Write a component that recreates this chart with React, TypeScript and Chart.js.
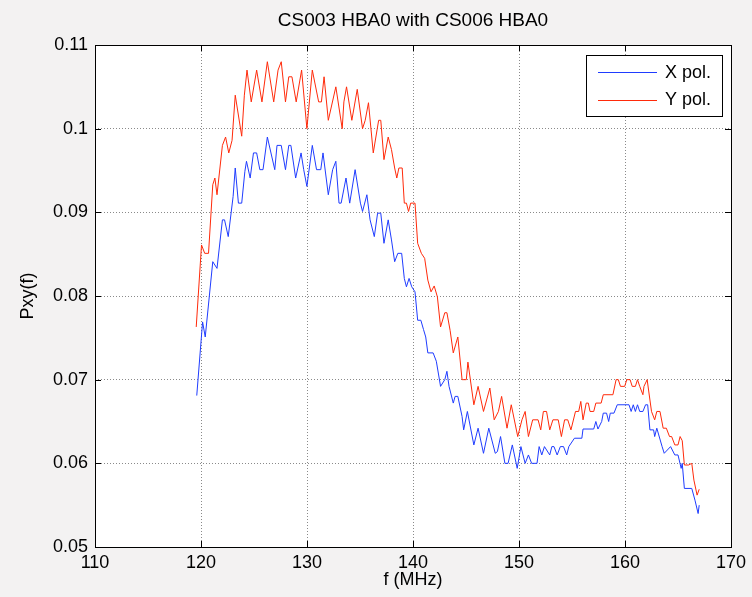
import React, { useEffect, useRef } from "react";
import { Chart, registerables } from "chart.js";

Chart.register(...registerables);

const chartTitle = "CS003 HBA0 with CS006 HBA0";
const xAxisLabel = "f (MHz)";
const yAxisLabel = "Pxy(f)";
const seriesNames = ["X pol.", "Y pol."];

const xTicks = [110, 120, 130, 140, 150, 160, 170];
const yTicks = [0.05, 0.06, 0.07, 0.08, 0.09, 0.1, 0.11];

const xPolFreq = [119.6,120.15,120.4,121.11,121.51,122.02,122.22,122.57,123.03,123.23,123.53,123.84,124.14,124.29,124.64,124.95,125.25,125.55,125.85,126.26,126.96,127.17,127.57,127.97,128.28,128.48,128.93,129.44,129.69,129.99,130.5,130.9,131.3,131.51,132.01,132.42,132.72,133.02,133.22,133.68,134.03,134.54,135.04,135.24,135.65,135.95,136.35,136.66,136.96,137.26,137.66,137.97,138.27,138.57,138.93,139.18,139.38,139.63,139.88,140.19,140.44,140.74,140.99,141.2,141.4,141.9,142.2,142.6,143.0,143.2,143.4,143.8,143.97,144.23,144.63,144.78,145.13,145.74,146.14,146.65,147.15,147.76,147.96,148.26,148.67,148.97,149.37,149.83,150.18,150.58,150.89,151.19,151.7,151.9,152.15,152.4,152.9,153.1,153.3,153.6,153.9,154.2,154.5,154.7,155.23,155.93,156.04,157.05,157.25,157.45,157.8,157.95,158.26,158.46,158.61,158.96,159.27,160.38,160.58,160.78,160.98,161.18,161.39,161.69,161.94,162.14,162.35,162.7,162.8,163.0,163.5,163.7,164.3,164.7,165.0,165.3,165.4,165.6,166.3,166.6,166.9,167.0];
const xPolValues = [0.0681,0.0769,0.0751,0.0841,0.0833,0.0891,0.0891,0.0871,0.0919,0.0953,0.0911,0.0911,0.0949,0.0961,0.0941,0.0971,0.0971,0.0951,0.0951,0.0990,0.0951,0.0980,0.0980,0.0951,0.0980,0.0980,0.0941,0.0971,0.0951,0.0931,0.0980,0.0951,0.0951,0.0971,0.0921,0.0951,0.0961,0.0911,0.0911,0.0941,0.0911,0.0951,0.0911,0.0901,0.0921,0.0891,0.0871,0.0899,0.0899,0.0863,0.0891,0.0867,0.0841,0.0851,0.0851,0.0821,0.0811,0.0821,0.0811,0.0805,0.0771,0.0771,0.0760,0.0751,0.0732,0.0732,0.0722,0.0692,0.0700,0.0710,0.0692,0.0672,0.0680,0.0680,0.0656,0.0640,0.0662,0.0622,0.0642,0.0612,0.0642,0.0612,0.0614,0.0632,0.0600,0.0600,0.0622,0.0594,0.0620,0.0600,0.0610,0.0600,0.0600,0.0620,0.0610,0.0620,0.0610,0.0620,0.0620,0.0610,0.0620,0.0620,0.0610,0.0620,0.0630,0.0630,0.0641,0.0641,0.0650,0.0641,0.0650,0.0660,0.0660,0.0650,0.0660,0.0660,0.0670,0.0670,0.0662,0.0670,0.0662,0.0670,0.0662,0.0662,0.0670,0.0670,0.0640,0.0640,0.0632,0.0642,0.0620,0.0612,0.0620,0.0610,0.0610,0.0594,0.0600,0.0570,0.0570,0.0556,0.0540,0.0550];

const yPolFreq = [119.55,120.05,120.35,120.71,121.11,121.31,121.51,122.02,122.32,122.62,122.93,123.23,123.84,124.09,124.34,124.74,125.25,125.75,126.26,126.86,127.27,127.57,127.97,128.28,128.58,128.98,129.49,129.99,130.5,131.1,131.36,131.61,132.01,132.72,133.32,133.48,133.73,134.23,134.74,135.24,135.49,135.8,136.25,136.76,136.96,137.26,137.66,137.97,138.27,138.47,138.67,138.98,139.18,139.38,139.58,139.78,140.19,140.44,140.79,141.1,141.4,141.7,142.0,142.3,142.6,143.0,143.2,143.5,143.8,144.23,144.63,145.03,145.18,145.74,146.14,146.65,147.25,147.66,148.06,148.36,148.87,149.27,149.88,150.28,150.58,150.89,151.29,151.8,152.05,152.3,152.6,152.9,153.2,153.7,154.0,154.3,154.6,154.9,155.33,155.63,155.83,156.04,156.34,156.54,156.7,157.05,157.25,157.75,157.95,158.86,159.16,159.37,159.57,159.97,160.17,160.48,160.68,160.98,161.18,161.39,161.69,161.79,162.09,162.5,162.8,163.0,163.3,163.6,163.9,164.2,164.4,164.7,165.0,165.2,165.4,165.6,166.0,166.3,166.5,166.8,167.0];
const yPolValues = [0.0763,0.0861,0.0851,0.0851,0.0933,0.0941,0.0921,0.0980,0.0990,0.0971,0.0986,0.1040,0.0991,0.1040,0.1070,0.1032,0.1070,0.1032,0.1080,0.1032,0.1070,0.1080,0.1032,0.1062,0.1062,0.1032,0.1070,0.1000,0.1070,0.1032,0.1032,0.1062,0.1010,0.1050,0.1000,0.1032,0.1050,0.1010,0.1047,0.1000,0.1010,0.1031,0.0971,0.1010,0.1010,0.0963,0.0990,0.0975,0.0953,0.0941,0.0953,0.0953,0.0911,0.0911,0.0901,0.0911,0.0911,0.0863,0.0851,0.0845,0.0819,0.0805,0.0812,0.0799,0.0763,0.0780,0.0780,0.0759,0.0732,0.0751,0.0700,0.0700,0.0721,0.0670,0.0692,0.0662,0.0690,0.0652,0.0662,0.0680,0.0642,0.0670,0.0632,0.0652,0.0662,0.0632,0.0652,0.0652,0.0640,0.0662,0.0662,0.0640,0.0652,0.0652,0.0632,0.0652,0.0652,0.0640,0.0662,0.0662,0.0674,0.0652,0.0672,0.0672,0.0662,0.0662,0.0672,0.0672,0.0682,0.0682,0.0700,0.0700,0.0692,0.0692,0.0700,0.0700,0.0692,0.0692,0.0700,0.0692,0.0682,0.0692,0.0700,0.0662,0.0652,0.0662,0.0662,0.0642,0.0642,0.0632,0.0632,0.0622,0.0622,0.0632,0.0627,0.0598,0.0598,0.0600,0.0580,0.0562,0.0569];

const FONT = "'Liberation Sans', Arial, Helvetica, sans-serif";
const BLUE = "#1f3cff";
const RED = "#ff2a0a";

const framePlugin = {
  id: "matlabFrame",
  beforeDraw(chart: any) {
    const { ctx, chartArea: a, width, height } = chart;
    ctx.save();
    ctx.fillStyle = "#f3f2f2";
    ctx.fillRect(0, 0, width, height);
    ctx.fillStyle = "#ffffff";
    ctx.fillRect(a.left, a.top, a.right - a.left, a.bottom - a.top);
    ctx.restore();
  },
  afterDraw(chart: any) {
    const { ctx, chartArea: a, scales } = chart;
    ctx.save();
    ctx.strokeStyle = "#000";
    ctx.lineWidth = 1;
    ctx.strokeRect(Math.round(a.left) + 0.5, Math.round(a.top) + 0.5, Math.round(a.right - a.left), Math.round(a.bottom - a.top));
    const tl = 6;
    ctx.beginPath();
    xTicks.forEach((v) => {
      const px = Math.round(scales.x.getPixelForValue(v)) + 0.5;
      ctx.moveTo(px, a.bottom);
      ctx.lineTo(px, a.bottom - tl);
      ctx.moveTo(px, a.top);
      ctx.lineTo(px, a.top + tl);
    });
    yTicks.forEach((v) => {
      const py = Math.round(scales.y.getPixelForValue(v)) + 0.5;
      ctx.moveTo(a.left, py);
      ctx.lineTo(a.left + tl, py);
      ctx.moveTo(a.right, py);
      ctx.lineTo(a.right - tl, py);
    });
    ctx.stroke();

    // titles
    ctx.fillStyle = "#000";
    ctx.textAlign = "center";
    ctx.textBaseline = "middle";
    const cx = (a.left + a.right) / 2;
    ctx.font = `19px ${FONT}`;
    ctx.fillText(chartTitle, cx, 21);
    ctx.font = `18px ${FONT}`;
    ctx.fillText(xAxisLabel, cx, 580);
    ctx.save();
    ctx.translate(28, (a.top + a.bottom) / 2);
    ctx.rotate(-Math.PI / 2);
    ctx.fillText(yAxisLabel, 0, 0);
    ctx.restore();

    // legend
    const lx = 586.5, ly = 55.5, lw = 136, lh = 61;
    ctx.fillStyle = "#fff";
    ctx.fillRect(lx, ly, lw, lh);
    ctx.strokeStyle = "#000";
    ctx.strokeRect(lx, ly, lw, lh);
    chart.data.datasets.forEach((ds: any, i: number) => {
      const yy = ly + 16.5 + i * 27.5;
      ctx.strokeStyle = ds.borderColor;
      ctx.beginPath();
      ctx.moveTo(598, Math.round(yy) + 0.5);
      ctx.lineTo(657, Math.round(yy) + 0.5);
      ctx.stroke();
      ctx.fillStyle = "#000";
      ctx.textAlign = "left";
      ctx.font = `18px ${FONT}`;
      ctx.fillText(ds.label, 665, yy + 1);
    });
    ctx.restore();
  },
};

export default function App() {
  const ref = useRef<HTMLCanvasElement | null>(null);
  useEffect(() => {
    document.body.style.margin = "0";
    const canvas = ref.current;
    if (!canvas) return;
    const chart = new Chart(canvas, {
      type: "line",
      data: {
        datasets: [
          {
            label: seriesNames[0],
            data: xPolFreq.map((f, i) => ({ x: f, y: xPolValues[i] })),
            borderColor: BLUE,
            borderWidth: 1,
            pointRadius: 0,
            tension: 0,
            fill: false,
          },
          {
            label: seriesNames[1],
            data: yPolFreq.map((f, i) => ({ x: f, y: yPolValues[i] })),
            borderColor: RED,
            borderWidth: 1,
            pointRadius: 0,
            tension: 0,
            fill: false,
          },
        ],
      },
      options: {
        animation: false,
        responsive: false,
        maintainAspectRatio: false,
        layout: { padding: { top: 45, right: 21, left: 0, bottom: 0 } },
        plugins: { legend: { display: false }, title: { display: false }, tooltip: { enabled: false } },
        scales: {
          x: {
            type: "linear",
            min: 110,
            max: 170,
            afterBuildTicks: (s: any) => {
              s.ticks = xTicks.map((v) => ({ value: v }));
            },
            afterFit: (s: any) => {
              s.height = 50;
            },
            ticks: {
              color: "#000",
              font: { size: 18, family: FONT },
              padding: 5,
              maxRotation: 0,
              callback: (v: any) => String(v),
            },
            grid: { color: "#8a8a8a", lineWidth: 1, drawTicks: false },
            border: { display: false, dash: [1, 2] },
          },
          y: {
            type: "linear",
            min: 0.05,
            max: 0.11,
            afterBuildTicks: (s: any) => {
              s.ticks = yTicks.map((v) => ({ value: v }));
            },
            afterFit: (s: any) => {
              s.width = 95;
            },
            ticks: {
              color: "#000",
              font: { size: 18, family: FONT },
              padding: 7,
              callback: (v: any) => String(Number(Number(v).toFixed(3))),
            },
            grid: { color: "#8a8a8a", lineWidth: 1, drawTicks: false },
            border: { display: false, dash: [1, 2] },
          },
        },
      },
      plugins: [framePlugin],
    });
    return () => chart.destroy();
  }, []);
  return <canvas ref={ref} width={752} height={597} style={{ display: "block", width: 752, height: 597 }} />;
}
